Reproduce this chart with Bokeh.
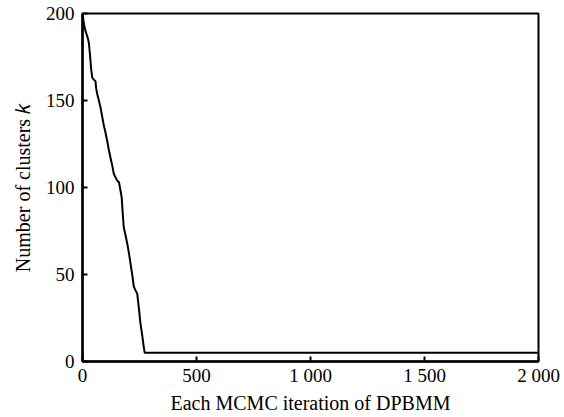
from bokeh.plotting import figure
from bokeh.models import FixedTicker, Range1d
from bokeh.embed import file_html
from bokeh.resources import INLINE

# Data
iterations = [0, 4, 8, 13, 18, 23, 28, 33, 38, 43, 50, 57, 60, 64, 70, 79, 86, 93, 100, 108,
              115, 123, 130, 137, 144, 152, 160, 167, 172, 176, 181, 188, 196, 204, 211, 218,
              225, 232, 240, 247, 254, 262, 269, 273, 278, 2000]
clusters = [200, 196, 193, 190, 188, 186, 183, 176, 168, 163, 162, 161, 157, 154, 151, 146,
            141, 136, 132, 127, 122, 117, 113, 108, 106, 104, 103, 98, 94, 86, 77, 73, 68, 62,
            56, 50, 43, 41, 39, 31, 22, 15, 8, 5, 5, 5]

x_ticks = [0, 500, 1000, 1500, 2000]
x_tick_labels = ["0", "500", "1 000", "1 500", "2 000"]
y_ticks = [0, 50, 100, 150, 200]
y_tick_labels = ["0", "50", "100", "150", "200"]

x_label = "Each MCMC iteration of DPBMM"
y_label = "Number of clusters \U0001D458"

FONT = "Liberation Serif"

p = figure(width=564, height=417, output_backend="svg", toolbar_location=None,
           title=None,
           x_range=Range1d(0, 2000), y_range=Range1d(0, 200),
           min_border_left=82, min_border_right=26, min_border_top=13, min_border_bottom=56,
           background_fill_color="white", border_fill_color="white")

p.xgrid.visible = False
p.ygrid.visible = False
p.outline_line_color = "black"
p.outline_line_width = 2
p.outline_line_alpha = 1

p.xaxis.ticker = FixedTicker(ticks=x_ticks)
p.xaxis.major_label_overrides = dict(zip(x_ticks, x_tick_labels))
p.yaxis.ticker = FixedTicker(ticks=y_ticks)
p.yaxis.major_label_overrides = dict(zip(y_ticks, y_tick_labels))

for ax in p.xaxis + p.yaxis:
    ax.axis_line_width = 2.5
    ax.axis_line_color = "black"
    ax.major_tick_in = 5
    ax.major_tick_out = 0
    ax.major_tick_line_width = 2
    ax.major_tick_line_color = "black"
    ax.minor_tick_line_color = None
    ax.major_label_text_font = FONT
    ax.major_label_text_font_size = "19px"
    ax.major_label_text_color = "black"
    ax.axis_label_text_font = FONT
    ax.axis_label_text_font_size = "20px"
    ax.axis_label_text_font_style = "normal"
    ax.axis_label_text_color = "black"

p.xaxis.major_label_standoff = 3
p.yaxis.major_label_standoff = 8

p.xaxis.axis_label = x_label
p.xaxis.axis_label_standoff = 3
p.yaxis.axis_label = y_label
p.yaxis.axis_label_standoff = 9

p.line(iterations, clusters, line_color="black", line_width=2)

open("out.html", "w").write(file_html(p, INLINE))
